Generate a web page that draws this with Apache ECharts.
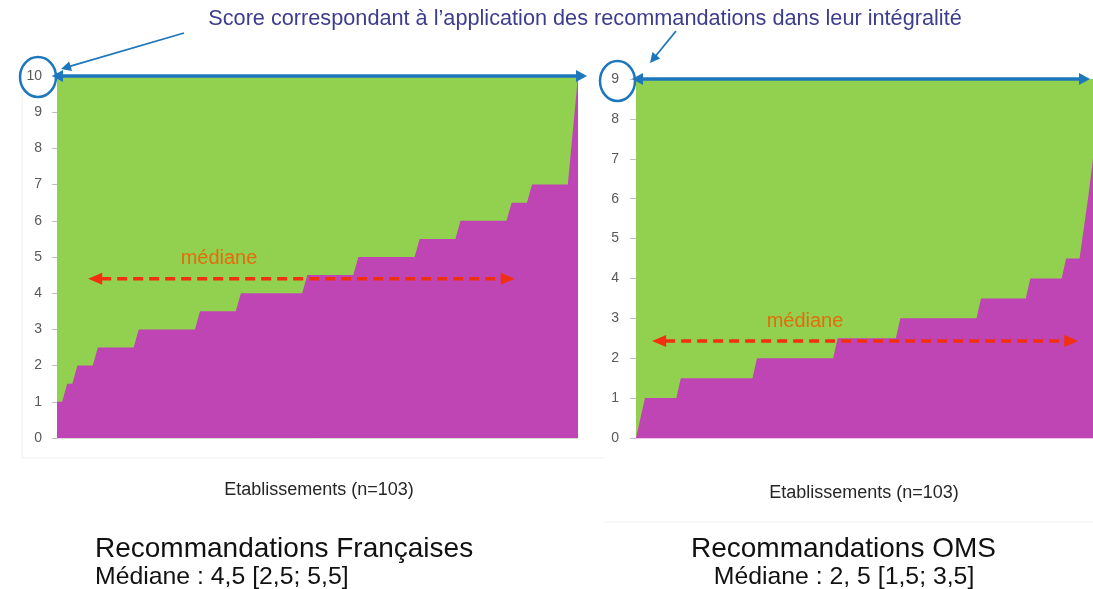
<!DOCTYPE html>
<html>
<head>
<meta charset="utf-8">
<script src="https://cdn.jsdelivr.net/npm/echarts@6/dist/echarts.min.js"></script>
<style>
html,body{margin:0;padding:0;background:#fff;}
#chart{width:1093px;height:589px;}
</style>
</head>
<body>
<div id="chart"></div>
<script>
// ---- data ----
const leftScores = [
  1,1,1.5,1.5,2,2,2,2,
  2.5,2.5,2.5,2.5,2.5,2.5,2.5,2.5,
  3,3,3,3,3,3,3,3,3,3,3,3,
  3.5,3.5,3.5,3.5,3.5,3.5,3.5,3.5,
  4,4,4,4,4,4,4,4,4,4,4,4,4,
  4.5,4.5,4.5,4.5,4.5,4.5,4.5,4.5,4.5,4.5,
  5,5,5,5,5,5,5,5,5,5,5,5,
  5.5,5.5,5.5,5.5,5.5,5.5,5.5,5.5,
  6,6,6,6,6,6,6,6,6,6,
  6.5,6.5,6.5,6.5,
  7,7,7,7,7,7,7,7,
  8.5,10
];
const rightScores = [
  0,0.5,
  1,1,1,1,1,1,1,1,
  1.5,1.5,1.5,1.5,1.5,1.5,1.5,1.5,1.5,1.5,1.5,1.5,1.5,1.5,1.5,1.5,1.5,
  2,2,2,2,2,2,2,2,2,2,2,2,2,2,2,2,2,2,
  2.5,2.5,2.5,2.5,2.5,2.5,2.5,2.5,2.5,2.5,2.5,2.5,2.5,2.5,
  3,3,3,3,3,3,3,3,3,3,3,3,3,3,3,3,3,3,
  3.5,3.5,3.5,3.5,3.5,3.5,3.5,3.5,3.5,3.5,3.5,
  4,4,4,4,4,4,4,4,
  4.5,4.5,4.5,4.5,
  5.3,6.1,7
];
const leftMaxScore = 10;
const rightMaxScore = 9;
const nEtab = 103;
// median annotation arrows (establishment range, score level as drawn)
const leftMedianArrow = {from: 7.1, to: 90.6, at: 4.4};
const rightMedianArrow = {from: 4.6, to: 99.7, at: 2.43};

const texts = {
  top: "Score correspondant à l\u2019application des recommandations dans leur intégralité",
  median: "médiane",
  xTitle: "Etablissements (n=103)",
  leftTitle: "Recommandations Françaises",
  leftSub: "Médiane : 4,5 [2,5; 5,5]",
  rightTitle: "Recommandations OMS",
  rightSub: "Médiane : 2, 5 [1,5; 3,5]"
};

// ---- build ----
const leftData = leftScores.map((v, i) => [i + 1, v]);
const rightData = rightScores.map((v, i) => [i + 1, v]);

const GREEN = '#92D050';
const PURPLE = '#C045B4';
const BLUE = '#1c77bd';
const RED = '#f2300f';
const FONT = '"Liberation Sans", Arial, sans-serif';

function yAxisCfg(grid, max, margin, tickLen, fadedMax) {
  return {
    gridIndex: grid, type: 'value', min: 0, max: max, interval: 1,
    axisLine: {show: false},
    axisTick: {show: true, length: tickLen, lineStyle: {color: '#bfbfbf'}},
    axisLabel: {
      color: function (v) { return (fadedMax && v === max) ? '#a6a6a6' : '#595959'; },
      fontSize: 14, margin: margin, fontFamily: FONT
    },
    splitLine: {show: false}
  };
}
function xAxisCfg(grid, lineColor) {
  return {
    gridIndex: grid, type: 'value', min: 1, max: nEtab,
    axisLine: {show: true, onZero: false, lineStyle: {color: lineColor}},
    axisTick: {show: false}, axisLabel: {show: false}, splitLine: {show: false}
  };
}

const chart = echarts.init(document.getElementById('chart'), null, {renderer: 'canvas'});
chart.setOption({
  animation: false,
  backgroundColor: '#ffffff',
  grid: [
    {left: 57, top: 76, width: 521, height: 362, show: true, backgroundColor: GREEN, borderWidth: 0},
    {left: 636, top: 79, width: 459, height: 359, show: true, backgroundColor: GREEN, borderWidth: 0}
  ],
  xAxis: [xAxisCfg(0, '#d9d9d9'), xAxisCfg(1, '#f0c6ec')],
  yAxis: [yAxisCfg(0, leftMaxScore, 15, 5, false), yAxisCfg(1, rightMaxScore, 17, 6, true)],
  series: [
    {type: 'line', xAxisIndex: 0, yAxisIndex: 0, data: leftData, symbol: 'none',
     lineStyle: {width: 0}, areaStyle: {color: PURPLE, opacity: 1}, z: 2},
    {type: 'line', xAxisIndex: 1, yAxisIndex: 1, data: rightData, symbol: 'none',
     lineStyle: {width: 0}, areaStyle: {color: PURPLE, opacity: 1}, z: 2}
  ]
});

// ---- annotations ----
function head(tip, dir, len, half, color) {
  const px = -dir[1], py = dir[0];
  const bx = tip[0] - dir[0] * len, by = tip[1] - dir[1] * len;
  return {type: 'polygon', z: 100, silent: true,
    shape: {points: [[tip[0], tip[1]], [bx + px * half, by + py * half], [bx - px * half, by - py * half]]},
    style: {fill: color}};
}
function arrow(a, b, color, width, dash, both, len, half) {
  const dx = b[0] - a[0], dy = b[1] - a[1];
  const L = Math.sqrt(dx * dx + dy * dy);
  const d = [dx / L, dy / L];
  const els = [];
  const s = both ? [a[0] + d[0] * (len - 1), a[1] + d[1] * (len - 1)] : a;
  const e = [b[0] - d[0] * (len - 1), b[1] - d[1] * (len - 1)];
  els.push({type: 'line', z: 99, silent: true,
    shape: {x1: s[0], y1: s[1], x2: e[0], y2: e[1]},
    style: {stroke: color, lineWidth: width, lineDash: dash || null}});
  els.push(head(b, d, len, half, color));
  if (both) els.push(head(a, [-d[0], -d[1]], len, half, color));
  return els;
}
function txt(x, y, text, size, color, align, extra) {
  return Object.assign({type: 'text', x: x, y: y, z: 101, silent: true,
    style: {text: text, fill: color, fontSize: size, fontFamily: FONT,
      align: align, verticalAlign: 'middle', textAlign: align, textVerticalAlign: 'middle'}}, extra || {});
}

const P = (g, v) => chart.convertToPixel({gridIndex: g}, v);

const lTop0 = P(0, [1, leftMaxScore]);
const lTop1 = P(0, [nEtab, leftMaxScore]);
const rTop0 = P(1, [1, rightMaxScore]);
const rTop1 = P(1, [nEtab, rightMaxScore]);

let g = [];
// frames
g.push({type: 'polyline', z: 0, silent: true, shape: {points: [[22, 60], [22, 458], [604, 458]]},
  style: {stroke: '#efefef', lineWidth: 1, fill: null}});
g.push({type: 'line', z: 0, silent: true, shape: {x1: 604, y1: 522, x2: 1093, y2: 522},
  style: {stroke: '#f2f2f2', lineWidth: 1}});

// max-score blue arrows
g = g.concat(arrow([lTop0[0] - 5, lTop0[1]], [lTop1[0] + 9, lTop1[1]], BLUE, 3.5, null, true, 11, 6));
g = g.concat(arrow([rTop0[0] - 4, rTop0[1]], [rTop1[0] - 3, rTop1[1]], BLUE, 3.5, null, true, 11, 6));
// circles round the max tick label
g.push({type: 'ellipse', z: 100, silent: true, shape: {cx: 38, cy: lTop0[1] + 1, rx: 18, ry: 20},
  style: {stroke: BLUE, lineWidth: 2.5, fill: null}});
g.push({type: 'ellipse', z: 100, silent: true, shape: {cx: 617.5, cy: rTop0[1] + 2, rx: 17.5, ry: 20},
  style: {stroke: BLUE, lineWidth: 2.5, fill: null}});
// pointer arrows from the top caption
g = g.concat(arrow([184, 33], [61, 69], BLUE, 1.8, null, false, 10, 5));
g = g.concat(arrow([676, 31], [650, 63], BLUE, 1.8, null, false, 10, 5));

// median dashed arrows
const lm0 = P(0, [leftMedianArrow.from, leftMedianArrow.at]);
const lm1 = P(0, [leftMedianArrow.to, leftMedianArrow.at]);
const rm0 = P(1, [rightMedianArrow.from, rightMedianArrow.at]);
const rm1 = P(1, [rightMedianArrow.to, rightMedianArrow.at]);
g = g.concat(arrow(lm0, lm1, RED, 3.5, [10, 6], true, 14, 6));
g = g.concat(arrow(rm0, rm1, RED, 3.5, [10, 6], true, 14, 6));

// texts
g.push(txt(585, 19, texts.top, 21.7, '#3d3d8f', 'center'));
g.push(txt(219, 258, texts.median, 20, '#e46c0a', 'center'));
g.push(txt(805, 321, texts.median, 20, '#e46c0a', 'center'));
g.push(txt(319, 490, texts.xTitle, 18, '#262626', 'center'));
g.push(txt(864, 493, texts.xTitle, 18, '#262626', 'center'));
g.push(txt(95, 549, texts.leftTitle, 28, '#111111', 'left'));
g.push(txt(95, 577, texts.leftSub, 24.8, '#111111', 'left'));
g.push(txt(843.5, 549, texts.rightTitle, 28, '#111111', 'center'));
g.push(txt(844, 577, texts.rightSub, 24.8, '#111111', 'center'));

chart.setOption({graphic: {elements: g}});
</script>
</body>
</html>
